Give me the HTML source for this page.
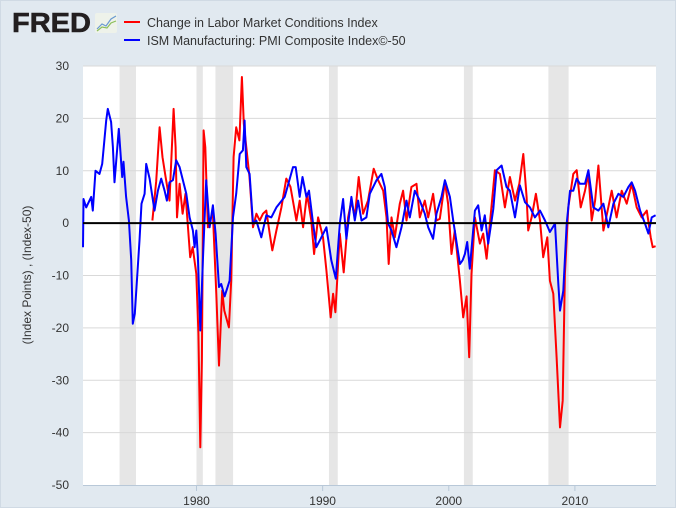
<!DOCTYPE html>
<html><head><meta charset="utf-8">
<style>
html,body{margin:0;padding:0;}
body{width:676px;height:508px;background:#e1e9f0;font-family:"Liberation Sans",sans-serif;overflow:hidden;position:relative;}
#frame{position:absolute;left:0;top:0;width:674px;height:506px;border:1px solid #d0dae4;}
</style></head>
<body>
<div id="frame"></div>
<svg id="chart" width="676" height="508" style="position:absolute;left:0;top:0">
  <g>
    <text x="12" y="32" font-family="Liberation Sans, sans-serif" font-weight="bold" font-size="28" fill="#231f20" textLength="79" lengthAdjust="spacingAndGlyphs" stroke="#231f20" stroke-width="0.6">FRED</text>
    <rect x="95" y="13" width="22" height="20" rx="2" fill="#eef2ea"/>
    <polyline points="97,29 102,24 106,26 111,19 116,16" fill="none" stroke="#6a9ad0" stroke-width="1.2"/>
    <polyline points="97,31 102,27 107,28 111,23 116,21" fill="none" stroke="#8cbf5a" stroke-width="1.2"/>
  </g>
  <g>
    <g>
      <line x1="124" y1="22" x2="140" y2="22" stroke="#ff0000" stroke-width="2"/>
      <text x="147" y="27" font-size="12.5" fill="#333">Change in Labor Market Conditions Index</text>
    </g>
    <g>
      <line x1="124" y1="40" x2="140" y2="40" stroke="#0000ff" stroke-width="2"/>
      <text x="147" y="45" font-size="12.5" fill="#333">ISM Manufacturing: PMI Composite Index©-50</text>
    </g>
  </g>
  <rect x="83" y="66" width="573" height="419" fill="#ffffff"/>
  <g id="rec"></g>
  <g id="grid"></g>
  <g id="series"></g>
  <g id="axes"></g>
  <text transform="translate(31,275) rotate(-90)" text-anchor="middle" font-size="12" fill="#333">(Index Points) , (Index-50)</text>
</svg>
<script>
const recessionStarts=[1973.9,1980.0,1981.5,1990.5,2001.2,2007.9];
const recessionEnds=[1975.2,1980.5,1982.9,1991.2,2001.9,2009.5];
const yTicks=[30,20,10,0,-10,-20,-30,-40,-50];
const xTicks=[1980,1990,2000,2010];
const lmciYears=[1976.5,1976.8,1977.07,1977.3,1977.55,1977.86,1978.18,1978.34,1978.45,1978.66,1978.9,1979.13,1979.3,1979.5,1979.7,1979.98,1980.15,1980.3,1980.43,1980.56,1980.7,1980.9,1981.05,1981.3,1981.57,1981.78,1982.04,1982.2,1982.57,1982.75,1982.94,1983.15,1983.4,1983.6,1983.75,1983.95,1984.2,1984.48,1984.75,1985.01,1985.27,1985.53,1985.8,1986.01,1986.33,1986.73,1987.12,1987.45,1987.92,1988.18,1988.45,1988.76,1989.1,1989.32,1989.64,1990.03,1990.3,1990.64,1990.83,1991.01,1991.36,1991.67,1992.02,1992.28,1992.55,1992.86,1993.21,1993.6,1994.05,1994.4,1994.8,1995.06,1995.24,1995.46,1995.72,1996.12,1996.38,1996.65,1997.04,1997.44,1997.7,1998.1,1998.37,1998.76,1999.03,1999.29,1999.69,1999.95,2000.22,2000.48,2000.88,2001.14,2001.41,2001.62,2001.8,2002.07,2002.47,2002.73,2003.0,2003.26,2003.66,2004.05,2004.45,2004.85,2005.25,2005.59,2005.91,2006.17,2006.3,2006.57,2006.91,2007.23,2007.49,2007.81,2008.02,2008.29,2008.55,2008.82,2009.03,2009.21,2009.48,2009.87,2010.14,2010.46,2010.8,2011.07,2011.33,2011.6,2011.86,2012.26,2012.65,2012.92,2013.31,2013.71,2014.11,2014.5,2014.9,2015.3,2015.7,2016.01,2016.17,2016.4];
const lmciValues=[0.5,8,18.3,12.6,8.8,4.3,21.8,14.5,1.1,7.5,1.8,5.6,-0.1,-6.5,-4.6,-9.7,-21,-42.8,-26,17.7,14.5,-0.8,0.5,1.8,-13.5,-27.2,-12.9,-16.7,-19.9,-11,12.6,18.3,15.8,27.9,19,14.5,8.8,-0.8,1.8,0.5,1.8,2.4,-2,-5.2,-1.4,3,8.5,6.9,0.5,4.3,-0.8,5.6,0.5,-5.9,1.1,-2.7,-9,-18,-13.5,-17,-2,-9.4,1.1,4.3,1.1,8.8,1.8,4.3,10.4,8.2,6.2,1.1,-7.8,1.1,-2.7,3.7,6.2,0.5,6.9,7.5,1.1,4.3,1.1,5.6,0.5,0.8,7.8,3.7,-5.9,-1.4,-11,-18,-14,-25.6,-9.7,1.1,-3.9,-2,-6.8,-0.1,10.1,9.4,3,8.8,4.3,7.5,13.2,5,-1.4,1.1,5.6,0.5,-6.5,-2.7,-11,-13.5,-25.6,-39,-33.9,-9.7,3,9.4,10.1,3,6.2,9.4,0.5,4.3,11,-1.4,3,6.2,1.1,6.2,3.7,7.5,3,1.1,2.4,-2.7,-4.6,-4.4];
const ismYears=[1971.0,1971.04,1971.25,1971.65,1971.78,1971.99,1972.31,1972.52,1972.84,1972.97,1973.23,1973.37,1973.5,1973.84,1974.11,1974.21,1974.42,1974.64,1974.82,1974.95,1975.11,1975.48,1975.64,1975.88,1976.01,1976.28,1976.67,1976.94,1977.2,1977.47,1977.65,1977.86,1978.13,1978.39,1978.66,1978.92,1979.19,1979.45,1979.71,1979.85,1979.98,1980.11,1980.3,1980.51,1980.77,1981.04,1981.3,1981.51,1981.78,1981.96,1982.23,1982.62,1982.89,1983.15,1983.42,1983.68,1983.81,1983.95,1984.21,1984.48,1984.74,1985.14,1985.53,1985.93,1986.33,1986.99,1987.65,1987.86,1988.18,1988.4,1988.71,1988.92,1989.24,1989.5,1989.9,1990.3,1990.69,1991.04,1991.36,1991.62,1991.88,1992.28,1992.55,1992.81,1993.08,1993.47,1993.74,1994.27,1994.66,1994.93,1995.19,1995.46,1995.85,1996.25,1996.65,1996.91,1997.31,1997.7,1998.1,1998.37,1998.76,1999.03,1999.42,1999.69,2000.09,2000.35,2000.88,2001.1,2001.28,2001.46,2001.67,2002.07,2002.33,2002.6,2002.86,2003.13,2003.53,2003.79,2004.19,2004.58,2004.85,2005.25,2005.64,2006.04,2006.44,2006.83,2007.23,2007.63,2008.02,2008.42,2008.68,2008.82,2009.08,2009.35,2009.61,2009.87,2010.14,2010.4,2010.8,2011.07,2011.46,2011.86,2012.26,2012.65,2013.05,2013.45,2013.84,2014.24,2014.5,2014.77,2015.17,2015.56,2015.83,2016.09,2016.4];
const ismValues=[-4.6,4.6,3,5,2.4,10,9.4,11.3,19.6,21.8,19.3,14.5,7.8,18,8.8,11.7,5,0.5,-7,-19.2,-17.3,-3.3,3.7,5.6,11.3,8.5,2.4,6.2,8.5,6.2,4.3,7.8,8.2,12,10.7,8.2,5.6,1.1,-1.4,-4.6,-1.4,-6.5,-20.5,-7,8.2,-0.8,3.4,-2,-12.2,-11.6,-14,-11,1.1,5.6,13.2,13.9,19.6,10.7,9.4,-0.1,0.5,-2.7,1.5,1.1,3,5,10.7,10.7,5,8.8,5,6.2,-0.1,-4.6,-2.7,-0.8,-7.1,-10.6,-0.1,4.6,-3,5,0.5,4.3,0.5,1.1,5.6,8.2,9.4,6.9,-0.1,-1.4,-4.6,-0.8,4.3,1.1,6.2,4.3,1.8,-0.8,-3,1.8,5,8.2,5,0.5,-7.8,-7.1,-5.9,-3.6,-8.7,2.4,3.4,-1.4,1.5,-3.9,2.7,10.1,11,6.9,6.2,1.1,7.2,4,3,1.1,2.4,0.5,-1.7,-0.1,-11.5,-16.7,-12.9,-0.1,6.2,6.2,8.5,7.5,7.5,10.1,3,2.4,3.7,-0.8,3.7,5.6,5,6.9,7.8,6.2,2.4,-0.1,-2,1.1,1.5];

const X0=83,X1=656,Y0=485,Y1=66,YR0=1971,YR1=2016.43;
function xs(yr){return X0+(yr-YR0)/(YR1-YR0)*(X1-X0);}
function ys(v){return Y0-(v+50)/80*(Y0-Y1);}
const NS='http://www.w3.org/2000/svg';
function mk(tag,attrs,parent){const e=document.createElementNS(NS,tag);for(const k in attrs)e.setAttribute(k,attrs[k]);parent.appendChild(e);return e;}

const rec=document.getElementById('rec');
recessionStarts.forEach((s,i)=>{
  const r=mk('rect',{x:xs(s),y:Y1,width:xs(recessionEnds[i])-xs(s),height:Y0-Y1,fill:'#e6e6e6'},rec);
  
  
});
const grid=document.getElementById('grid');
const axes=document.getElementById('axes');
yTicks.forEach(t=>{
  if(t!==0&&t!==-50){
    const l=mk('line',{x1:X0,x2:X1,y1:ys(t),y2:ys(t),stroke:'#d9d9d9','stroke-width':1},grid);
    
    
  }
  const tx=mk('text',{x:69,y:ys(t)+4,'text-anchor':'end','font-size':12,fill:'#333'},axes);
  tx.textContent=t;
  
  
});
const bl=mk('line',{x1:X0,x2:X1,y1:Y0+0.5,y2:Y0+0.5,stroke:'#b8c8d8','stroke-width':1},axes);


xTicks.forEach(t=>{
  const l=mk('line',{x1:xs(t),x2:xs(t),y1:Y0,y2:Y0+6,stroke:'#b8c8d8'},axes);
  
  
  const tx=mk('text',{x:xs(t),y:Y0+20,'text-anchor':'middle','font-size':12,fill:'#333'},axes);
  tx.textContent=t;
  
  
});
const ser=document.getElementById('series');
function pts(xa,va){return xa.map((y,i)=>xs(y).toFixed(1)+','+ys(va[i]).toFixed(1)).join(' ');}
const red=mk('polyline',{points:pts(lmciYears,lmciValues),fill:'none',stroke:'#ff0000','stroke-width':2,'stroke-linejoin':'round'},ser);


const blue=mk('polyline',{points:pts(ismYears,ismValues),fill:'none',stroke:'#0000ff','stroke-width':2,'stroke-linejoin':'round'},ser);


const z=mk('line',{x1:X0,x2:X1,y1:ys(0),y2:ys(0),stroke:'#000','stroke-width':2},ser);


</script>
</body></html>
